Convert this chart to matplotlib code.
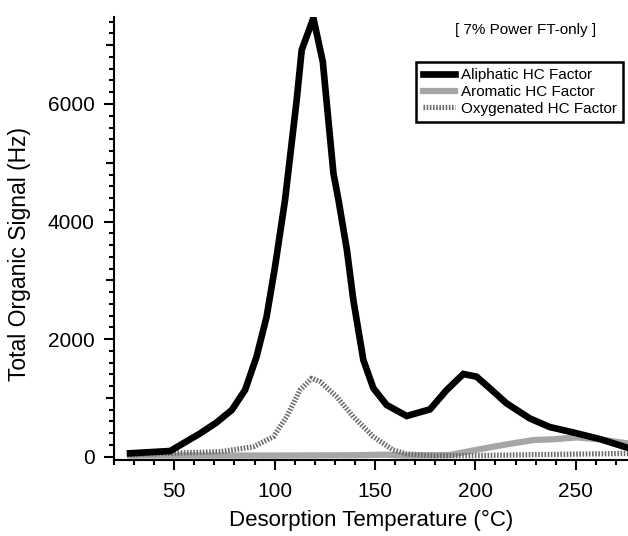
import matplotlib
matplotlib.use("Agg")
import matplotlib.pyplot as plt
from matplotlib.ticker import MultipleLocator, FixedLocator, NullLocator

plt.rcParams['font.family'] = ['Liberation Sans', 'DejaVu Sans']

# Aliphatic HC factor (black)
ali_x = [28, 48, 63, 71, 78.7, 85.3, 91, 96, 100.2, 105.2, 111, 113.5, 119.3, 124,
         129.3, 131.8, 136, 139.2, 144.2, 149.2, 155.8, 165.8, 177.4, 185.7, 194,
         200.6, 207.2, 215.5, 227, 237, 249, 262, 276]
ali_y = [58, 97, 398, 580, 795, 1135, 1700, 2380, 3230, 4370, 6070, 6920, 7460, 6720,
         4820, 4370, 3517, 2666, 1645, 1164, 880, 692, 806, 1135, 1407,
         1361, 1163, 908, 653, 505, 410, 300, 150]

# Aromatic HC factor (grey)
aro_x = [28, 60, 100, 140, 155, 165, 187.3, 202, 213.8, 229, 239, 250.5, 262, 276]
aro_y = [20, 20, 20, 25, 35, 20, 29, 126, 200, 284, 296, 328, 296, 225]

# Oxygenated HC factor (dotted)
oxy_x = [28, 48, 73, 89.5, 99.4, 106, 112.7, 118.5, 122.6, 130.9, 139.2, 149.2,
         159, 165.8, 180, 200, 230, 276]
oxy_y = [30, 60, 85, 170, 340, 680, 1135, 1334, 1276, 1020, 680, 340,
         114, 46, 15, 20, 35, 55]

fig = plt.figure(figsize=(6.28, 5.36), dpi=100)
ax = fig.add_axes([0.1815, 0.1418, 0.8185, 0.8265])

ax.plot(ali_x, ali_y, color='black', lw=4.8, solid_joinstyle='miter',
        label='Aliphatic HC Factor', zorder=3)
ax.plot(aro_x, aro_y, color='#a6a6a6', lw=4.5, label='Aromatic HC Factor', zorder=2)
ax.plot(oxy_x, oxy_y, color='#6a6a6a', lw=3.8, linestyle=(0, (0.3, 0.3)),
        label='Oxygenated HC Factor', zorder=2.5)

ax.set_xlim(20, 276)
ax.set_ylim(-56, 7480)

for s in ['top', 'right']:
    ax.spines[s].set_visible(False)
for s in ['left', 'bottom']:
    ax.spines[s].set_linewidth(1.5)

ax.xaxis.set_major_locator(FixedLocator([50, 100, 150, 200, 250]))
ax.xaxis.set_minor_locator(MultipleLocator(10))
ax.yaxis.set_major_locator(FixedLocator([0, 2000, 4000, 6000]))
ax.yaxis.set_minor_locator(MultipleLocator(200))
ax.tick_params(axis='both', which='major', direction='out', length=7.5, width=1.5,
               labelsize=15)
ax.tick_params(axis='x', which='major', pad=8)
ax.tick_params(axis='y', which='major', pad=6.5)
ax.tick_params(axis='both', which='minor', direction='out', length=3.7, width=1.5)

sec = ax.secondary_yaxis('left')
sec.yaxis.set_major_locator(FixedLocator([1000, 3000, 5000, 7000]))
sec.yaxis.set_minor_locator(NullLocator())
sec.tick_params(axis='y', which='major', length=5.5, width=1.5, labelleft=False)
sec.spines['left'].set_visible(False)

ax.set_xlabel('Desorption Temperature (°C)', fontsize=16, labelpad=7)
ax.set_ylabel('Total Organic Signal (Hz)', fontsize=16.5, labelpad=12)
ax.yaxis.label.set_y(0.465)

leg = ax.legend(loc='upper right', bbox_to_anchor=(0.99, 0.898), fontsize=11,
                frameon=True, fancybox=False, framealpha=1, edgecolor='black',
                handlelength=2.1, handletextpad=0.4, borderpad=0.4,
                labelspacing=0.18, borderaxespad=0)
leg.get_frame().set_linewidth(1.8)

ax.text(0.80, 0.97, '[ 7% Power FT-only ]', transform=ax.transAxes,
        fontsize=11, ha='center', va='center')

fig.savefig('out.png', dpi=100)
